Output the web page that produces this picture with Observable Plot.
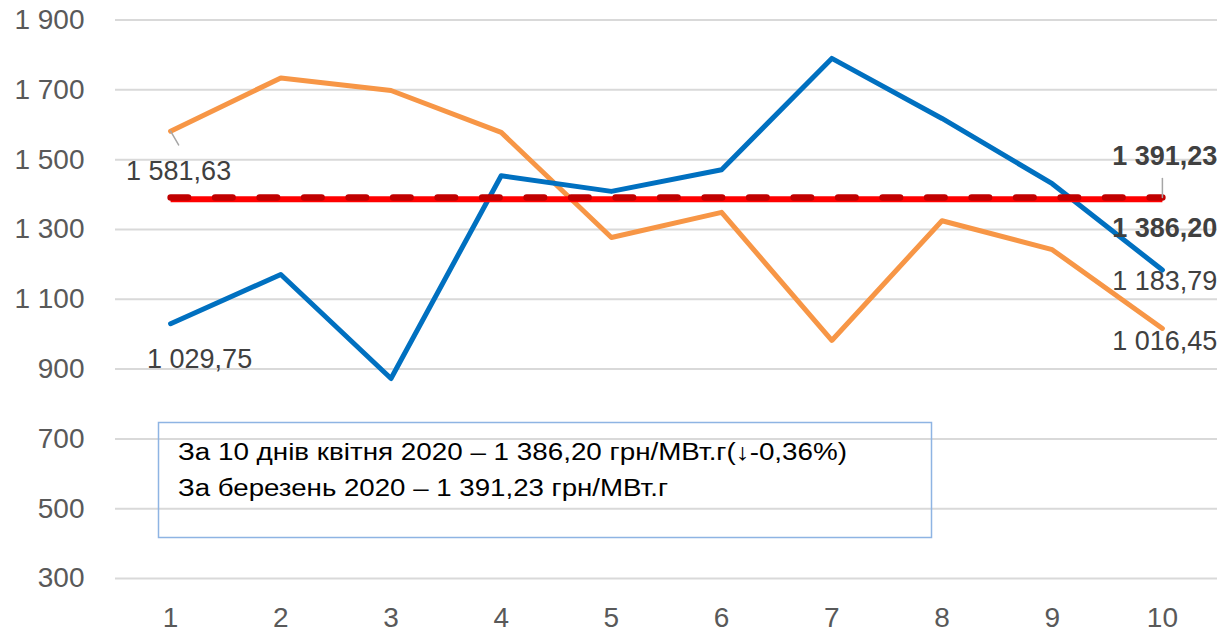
<!DOCTYPE html>
<html><head><meta charset="utf-8">
<script src="https://cdn.jsdelivr.net/npm/d3@7"></script>
<script src="https://cdn.jsdelivr.net/npm/@observablehq/plot@0.6"></script>
<style>
body{margin:0;background:#fff;}
#wrap{position:relative;width:1222px;height:632px;overflow:hidden;}
#note{position:absolute;left:0;top:0;}
</style></head>
<body><div id="wrap"></div>
<script>
// ---- data ----
const days = [1, 2, 3, 4, 5, 6, 7, 8, 9, 10];
const blueSeries = [1029.75, 1171, 873, 1454, 1409, 1471, 1790, 1618, 1431, 1183.79];
const orangeSeries = [1581.63, 1734, 1698, 1578, 1277, 1349, 982, 1325, 1242, 1016.45];
const avgMarch = 1391.23;
const avgApril = 1386.20;
const yTicks = [300, 500, 700, 900, 1100, 1300, 1500, 1700, 1900];
const noteLines = [
  "За 10 днів квітня 2020 – 1 386,20 грн/МВт.г(↓-0,36%)",
  "За березень 2020 – 1 391,23 грн/МВт.г"
];

// ---- formatting ----
const loc = d3.formatLocale({decimal: ",", thousands: " ", grouping: [3], currency: ["", ""]});
const fmtInt = loc.format(",d");
const fmt2 = loc.format(",.2f");

const blueData = days.map((d, i) => ({day: d, v: blueSeries[i]}));
const orangeData = days.map((d, i) => ({day: d, v: orangeSeries[i]}));
const marchAvgData = days.map(d => ({day: d, v: avgMarch}));
const aprilAvgData = days.map(d => ({day: d, v: avgApril}));

const FONT = "'Liberation Sans', Arial, sans-serif";
const lbl = (day, v, opts) => Plot.text([{day, v}], {
  x: "day", y: "v", text: d => fmt2(d.v), fontSize: 27, fill: "#404040", ...opts
});
const leader = {draw(ctx, l) { ctx.moveTo(0, 0); ctx.lineTo(0, -l); }};

const chart = Plot.plot({
  width: 1222, height: 632,
  marginLeft: 115, marginRight: 5, marginTop: 19.5, marginBottom: 54,
  style: {fontFamily: FONT, background: "white", color: "#595959", overflow: "visible"},
  x: {domain: [0.5, 10.5], axis: null},
  y: {domain: [300, 1900], axis: null},
  marks: [
    Plot.ruleY(yTicks, {stroke: "#d9d9d9", strokeWidth: 2}),
    Plot.axisY({ticks: yTicks, tickSize: 0, tickPadding: 31, tickFormat: fmtInt, fontSize: 28, label: null}),
    Plot.axisX({ticks: days, tickSize: 0, tickPadding: 29, tickFormat: d => String(d), fontSize: 28, label: null}),
    Plot.line(orangeData, {x: "day", y: "v", stroke: "#F79646", strokeWidth: 5}),
    Plot.line(blueData, {x: "day", y: "v", stroke: "#0070C0", strokeWidth: 5}),
    Plot.line(aprilAvgData, {x: "day", y: "v", stroke: "#FF0000", strokeWidth: 6, strokeLinecap: "butt"}),
    Plot.line(marchAvgData, {x: "day", y: "v", stroke: "#C00000", strokeWidth: 6.5, strokeLinecap: "round", strokeDasharray: "17.5 27"}),
    // leader lines
    Plot.vector([{day: days[0], v: orangeSeries[0]}], {x: "day", y: "v", length: 16, rotate: 150, anchor: "start", shape: leader, stroke: "#a6a6a6", strokeWidth: 1.5}),
    Plot.vector([{day: days[9], v: avgMarch}], {x: "day", y: "v", length: 19, rotate: 0, anchor: "start", shape: leader, stroke: "#a6a6a6", strokeWidth: 1.5}),
    // data labels
    lbl(days[0], orangeSeries[0], {dx: 8, dy: 40}),
    lbl(days[0], blueSeries[0], {dx: 29, dy: 36}),
    lbl(days[9], blueSeries[9], {dx: 55, dy: 11, textAnchor: "end"}),
    lbl(days[9], orangeSeries[9], {dx: 55, dy: 13, textAnchor: "end"}),
    lbl(days[9], avgMarch, {dx: 55, dy: -41, textAnchor: "end", fontWeight: "bold"}),
    lbl(days[9], avgApril, {dx: 55, dy: 29, textAnchor: "end", fontWeight: "bold"})
  ]
});
const wrap = document.getElementById("wrap");
wrap.appendChild(chart);

// ---- annotation box ----
const ns = "http://www.w3.org/2000/svg";
const note = document.createElementNS(ns, "svg");
note.setAttribute("id", "note");
note.setAttribute("width", 1222);
note.setAttribute("height", 632);
const rect = document.createElementNS(ns, "rect");
rect.setAttribute("x", 158.5); rect.setAttribute("y", 422.5);
rect.setAttribute("width", 773); rect.setAttribute("height", 115);
rect.setAttribute("fill", "none"); rect.setAttribute("stroke", "#8eb4e3"); rect.setAttribute("stroke-width", 1.5);
note.appendChild(rect);
const lens = [669, 490];
const bases = [460, 496];
noteLines.forEach((t, i) => {
  const tx = document.createElementNS(ns, "text");
  tx.setAttribute("x", 178); tx.setAttribute("y", bases[i]);
  tx.setAttribute("font-family", "'Liberation Sans', Arial, sans-serif");
  tx.setAttribute("font-size", 23);
  tx.setAttribute("fill", "#000");
  tx.setAttribute("textLength", lens[i]);
  tx.setAttribute("lengthAdjust", "spacingAndGlyphs");
  tx.textContent = t;
  note.appendChild(tx);
});
wrap.appendChild(note);
</script>
</body></html>
